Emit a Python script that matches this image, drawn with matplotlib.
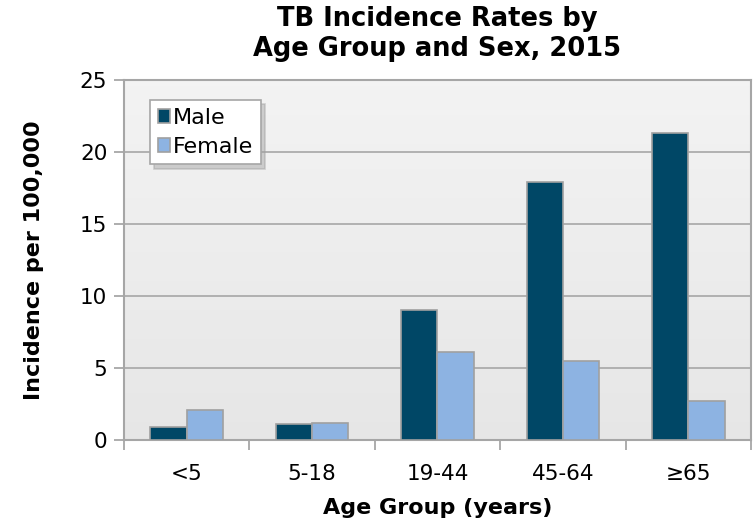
import numpy as np
import matplotlib.pyplot as plt

groups = ['<5', '5-18', '19-44', '45-64', '\u226565']
male = [0.9, 1.1, 9.0, 17.9, 21.3]
female = [2.1, 1.2, 6.1, 5.5, 2.7]

male_color = '#004766'
female_color = '#8db3e2'
edge = '#a0a0a0'

fig = plt.figure(figsize=(7.53, 5.29), dpi=100)
ax = fig.add_axes([0.1647, 0.168, 0.8326, 0.681])

x = np.arange(len(groups))
w = 0.29
ax.bar(x - w / 2, male, w, color=male_color, edgecolor=edge, linewidth=1.2, label='Male', zorder=3)
ax.bar(x + w / 2, female, w, color=female_color, edgecolor=edge, linewidth=1.2, label='Female', zorder=3)

ax.set_xlim(-0.5, len(groups) - 0.5)
ax.set_ylim(0, 25)

# light gradient background
grad = np.linspace(0.90, 0.95, 100).reshape(-1, 1)
ax.imshow(grad, cmap='gray', vmin=0, vmax=1, aspect='auto',
          extent=[-0.5, len(groups) - 0.5, 0, 25], origin='lower', zorder=0)

ax.set_yticks([0, 5, 10, 15, 20, 25])
ax.yaxis.grid(True, color='#a6a6a6', linewidth=1.2, zorder=1)
ax.set_xticks(x)
ax.set_xticklabels(groups)
ax.set_xticks(np.arange(-0.5, len(groups), 1), minor=True)
ax.tick_params(axis='x', which='major', length=0, labelsize=15.5, pad=17)
ax.tick_params(axis='x', which='minor', length=7, color='#a0a0a0', width=1.2)
ax.tick_params(axis='y', length=7, color='#a0a0a0', width=1.2, labelsize=15.5, pad=5)
for s in ax.spines.values():
    s.set_color('#a6a6a6')
    s.set_linewidth(1.5)

ax.set_xlabel('Age Group (years)', fontsize=16, fontweight='bold', labelpad=10)
ax.set_ylabel('Incidence per 100,000', fontsize=16, fontweight='bold', labelpad=26)
ax.set_title('TB Incidence Rates by\nAge Group and Sex, 2015', fontsize=18.5,
             fontweight='bold', pad=17, linespacing=1.2)

leg = ax.legend(loc='upper left', bbox_to_anchor=(0.041, 0.944), fontsize=16,
                frameon=True, fancybox=False,
                shadow=dict(ox=3, oy=-3, color='#a0a0a0', alpha=0.45),
                handlelength=0.55, handleheight=0.55, handletextpad=0.15,
                borderpad=0.35, labelspacing=0.4, borderaxespad=0)
leg.get_frame().set_edgecolor('#a6a6a6')
leg.get_frame().set_linewidth(1.2)

plt.savefig('out.png', dpi=100)
